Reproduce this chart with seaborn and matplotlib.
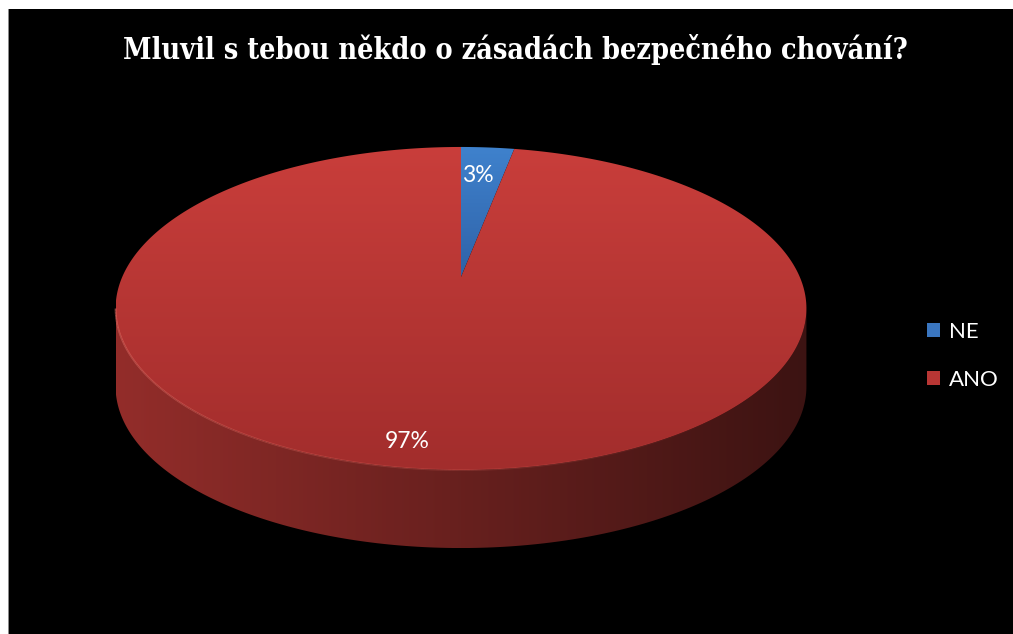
import numpy as np
import matplotlib
matplotlib.use("Agg")
import matplotlib.pyplot as plt
from matplotlib.patches import Polygon, Rectangle, Patch
from matplotlib.colors import LinearSegmentedColormap, to_rgba
from matplotlib.collections import LineCollection
import seaborn as sns

sns.set_theme(style="white")
plt.rcParams['font.family'] = ['Lato', 'DejaVu Sans']

title = "Mluvil s tebou někdo o zásadách bezpečného chování?"
categories = ["NE", "ANO"]
values = [3, 97]
pct_labels = ["3%", "97%"]

# colours: (top/left, bottom/right) of each slice
top_colors = [("#3f82cd", "#2f62a8"), ("#c93e3b", "#a22d2c")]
side_colors = [("#2a5590", "#1a3358"), ("#932d2a", "#3c1312")]
legend_colors = ["#3a76c0", "#b83634"]

# pie geometry (pixels), a little perspective like the Excel 3D pie
RX, RY, TILT, DEPTH = 338.8, 155.4, 0.195, 78
CX, CY = 461, 277
W, H = 1013, 634


def project(t_deg, r=1.0):
    t = np.radians(t_deg)
    x = r * np.cos(t)
    y = r * np.sin(t)
    d = 1 + TILT * y
    return RX * x / d, RY * y / d


def fill_gradient(ax, verts, cols, horizontal=False, z=2):
    poly = Polygon(verts, closed=True, facecolor='none', edgecolor='none', zorder=z)
    ax.add_patch(poly)
    xs, ys = verts[:, 0], verts[:, 1]
    cmap = LinearSegmentedColormap.from_list("g", cols)
    grad = np.linspace(0, 1, 256)
    img = grad[None, :] if horizontal else grad[::-1][:, None]
    im = ax.imshow(img, cmap=cmap, extent=(xs.min(), xs.max(), ys.min(), ys.max()),
                   origin='lower', aspect='auto', interpolation='bilinear', zorder=z)
    im.set_clip_path(poly)


fig = plt.figure(figsize=(W / 100, H / 100), dpi=100)
fig.patch.set_facecolor("white")
fig.patches.append(Rectangle((8 / W, 0), 1, (H - 9) / H, transform=fig.transFigure,
                             facecolor="black", edgecolor="none", zorder=-2))
fig.patches.append(Rectangle((8 / W, 0), 0.8 / W, (H - 9) / H, transform=fig.transFigure,
                             facecolor="#8a8a8a", edgecolor="none", zorder=-1))

ax = fig.add_axes([0, 0, 1, 1])
ax.axis("off")

total = float(sum(values))
cum = np.cumsum([0] + list(values)) / total
theta2 = 90 - 360 * cum[:-1]
theta1 = 90 - 360 * cum[1:]

vis0 = 180 + np.degrees(np.arcsin(TILT))
vis1 = 360 - np.degrees(np.arcsin(TILT))

# side walls (front half only)
for i in range(len(values)):
    for shift in (-360, 0, 360):
        lo = max(theta1[i], vis0 + shift)
        hi = min(theta2[i], vis1 + shift)
        if hi <= lo:
            continue
        t = np.linspace(lo, hi, 200)
        X, Y = project(t)
        verts = np.vstack([np.column_stack([X, Y]),
                           np.column_stack([X[::-1], Y[::-1] - DEPTH])])
        fill_gradient(ax, verts, side_colors[i], horizontal=True, z=1)

# top faces
for i in range(len(values)):
    t = np.linspace(theta1[i], theta2[i], 400)
    X, Y = project(t)
    verts = np.vstack([[0, 0], np.column_stack([X, Y])])
    fill_gradient(ax, verts, top_colors[i], z=3)

# light rim on the front edge, fading out to the right
t = np.linspace(vis0, vis1, 300)
X, Y = project(t)
pts = np.column_stack([X, Y]).reshape(-1, 1, 2)
segs = np.concatenate([pts[:-1], pts[1:]], axis=1)
alphas = np.clip(0.6 * (1 - np.linspace(0, 1, len(segs)) * 1.3), 0, 1)
rim_cols = [to_rgba("#e66c64", a) for a in alphas]
ax.add_collection(LineCollection(segs, colors=rim_cols, linewidths=1.3, zorder=4))

# percentage labels
label_r = [0.75, 0.88]
label_dx = [-4, -20]
for i in range(len(values)):
    mid = (theta1[i] + theta2[i]) / 2
    lx, ly = project(mid, label_r[i])
    ax.text(lx + label_dx[i], ly, pct_labels[i], color="white", fontsize=16.5,
            ha="center", va="center", zorder=5)

ax.set_xlim(-CX, W - CX)
ax.set_ylim(CY - H, CY)

fig.text(515 / W, 1 - 59 / H, title, ha="center", va="baseline", color="white",
         fontsize=20.6, fontweight="bold", fontstretch="condensed", family=["DejaVu Serif"])

handles = [Patch(facecolor=c, edgecolor="none") for c in legend_colors]
fig.legend(handles, categories, loc="center left", bbox_to_anchor=(927 / W, 1 - 356 / H),
           frameon=False, fontsize=16, handlelength=0.6, handleheight=0.6,
           handletextpad=0.4, labelspacing=1.25, borderpad=0, borderaxespad=0,
           labelcolor="white")

fig.savefig("out.png", dpi=100, facecolor=fig.get_facecolor())
